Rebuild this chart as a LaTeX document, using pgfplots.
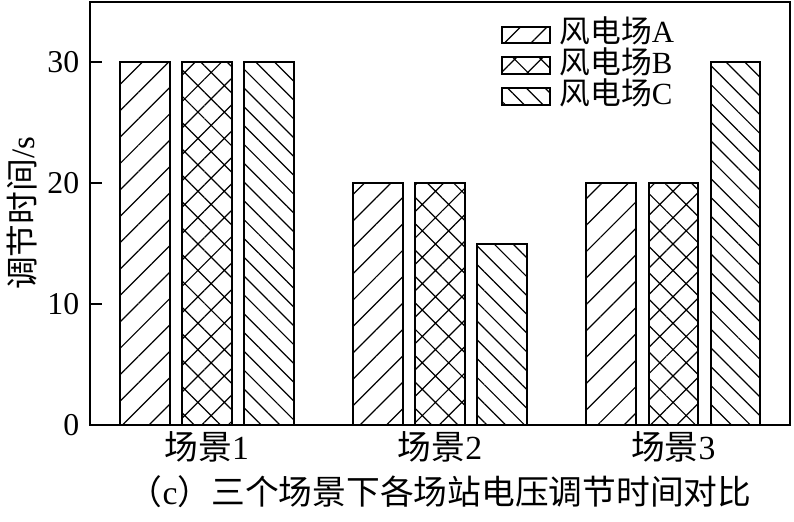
\documentclass[border=0pt]{standalone}
\usepackage{fontspec}
\setmainfont{Liberation Serif}
\newfontfamily\cjk{Noto Sans CJK SC}
\usepackage{pgfplots}
\pgfplotsset{compat=1.18}
\usetikzlibrary{patterns.meta,calc}

\begin{document}
\begin{tikzpicture}
  \begin{axis}[
      name=ax,
      scale only axis,
      width=352.5pt, height=213pt,
      xmin=0.5, xmax=3.5,
      ymin=0, ymax=35,
      ybar,
      bar width=0.213,
      axis line style={line width=1pt},
      xtick={1,2,3},
      xticklabels={{\cjk 场景}1,{\cjk 场景}2,{\cjk 场景}3},
      x tick style={draw=none},
      ytick={0,10,20,30},
      ytick pos=left,
      tick align=inside,
      major tick length=6pt,
      y tick style={line width=1pt, black},
      tick label style={font=\fontsize{16}{19}\selectfont},
      xticklabel style={font=\fontsize{17}{20}\selectfont},
      /pgf/number format/assume math mode=true,
      yticklabel style={xshift=-2pt},
      ylabel={{\cjk 调节时间}/s},
      ylabel style={at={(axis description cs:0,0.5)}, anchor=center,
        yshift=34.5pt, font=\fontsize{16.5}{19}\selectfont},
      xlabel={{\cjk （}c{\cjk ）三个场景下各场站电压调节时间对比}},
      xlabel style={at={(axis description cs:0.5,0)}, anchor=center,
        yshift=-33.5pt, font=\fontsize{17}{20}\selectfont},
      legend style={at={(axis description cs:0.578,0.965)}, anchor=north west,
        draw=none, fill=none, font=\fontsize{15.5}{18}\selectfont,
        row sep=1.5pt,
        nodes={inner sep=0pt, text height=11pt, text depth=3pt},
        /tikz/every odd column/.append style={column sep=4.5pt}},
      legend cell align=left,
      legend image code/.code={\draw[#1] (0pt,-4.25pt) rectangle (24pt,4.25pt);},
    ]

    \addplot[draw=black, line width=1pt, bar shift=-0.266,
      pattern={Lines[angle=45,distance=9.4pt,line width=0.6pt]}]
      coordinates {(1,30) (2,20) (3,20)};
    \addlegendentry{{\cjk 风电场}A}

    \addplot[draw=black, line width=1pt, bar shift=0,
      pattern={Hatch[angle=45,distance=9.4pt,line width=0.6pt]}]
      coordinates {(1,30) (2,20) (3,20)};
    \addlegendentry{{\cjk 风电场}B}

    \addplot[draw=black, line width=1pt, bar shift=0.266,
      pattern={Lines[angle=-45,distance=6.7pt,line width=0.6pt]}]
      coordinates {(1,30) (2,15) (3,30)};
    \addlegendentry{{\cjk 风电场}C}

  \end{axis}
  \path ($(ax.south west)+(-42.5pt,-48.5pt)$) rectangle ($(ax.north east)+(2pt,1pt)$);
\end{tikzpicture}
\end{document}
